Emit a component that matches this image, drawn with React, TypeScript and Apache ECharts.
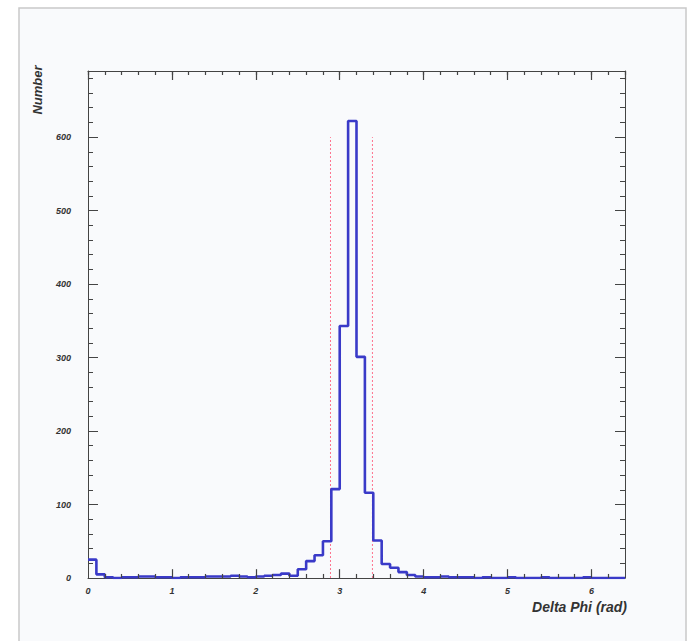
import React, { useEffect, useRef } from "react";
import * as echarts from "echarts";

// Histogram: 64 bins of width 0.1 rad from 0 to 6.4
const binWidth = 0.1;
const counts = [
  25, 5, 1, 0, 1, 1, 2, 2, 1, 1,
  0, 1, 1, 1, 2, 2, 2, 3, 2, 1,
  2, 3, 4, 6, 3, 12, 23, 31, 50, 121,
  343, 622, 301, 116, 51, 19, 14, 8, 4, 2,
  1, 1, 2, 1, 1, 1, 0, 1, 0, 0,
  1, 0, 0, 0, 1, 0, 0, 0, 0, 1,
  0, 0, 0, 0,
];
const xTickLabels = [0, 1, 2, 3, 4, 5, 6];
const yTickLabels = [0, 100, 200, 300, 400, 500, 600];
const xMinorStep = 0.2;
const cutPositions = [2.89, 3.39];
const cutHeight = 600;
const xMax = 6.4;
const yMax = 690;

const FONT = "'Liberation Sans', Arial, sans-serif";

export default function App() {
  const ref = useRef<HTMLDivElement>(null);
  useEffect(() => {
    if (!ref.current) return;
    const chart = echarts.init(ref.current, undefined, { renderer: "svg" });

    const stepData: number[][] = counts.map((c, i) => [i * binWidth, c]);
    stepData.push([counts.length * binWidth, counts[counts.length - 1]]);

    const axisCol = "#444";
    // bottom ticks as markLines (major ~9px, minor ~4px tall in data units)
    const nMinor = Math.round(xMax / xMinorStep);
    const tickLines: any[] = [];
    for (let i = 1; i < nMinor; i++) {
      const x = +(i * xMinorStep).toFixed(2);
      const major = Math.abs(x - Math.round(x)) < 1e-6;
      tickLines.push([
        { coord: [x, 0] },
        { coord: [x, major ? 12 : 5.5] },
      ]);
    }

    const labelStyle = {
      fontFamily: FONT,
      fontStyle: "italic" as const,
      fontWeight: "bold" as const,
      fontSize: 9,
      color: "#333",
    };

    const xBase = { type: "value" as const, min: 0, max: xMax, splitLine: { show: false } };
    const yBase = { type: "value" as const, min: 0, max: yMax, splitLine: { show: false } };
    const gridRect = { left: 88, right: 67, top: 71, bottom: 63, containLabel: false };
    const mainLine = { show: true, onZero: false, lineStyle: { color: axisCol, width: 1 } };
    const noLine = { show: false, onZero: false };

    const xAxis = [
      {
        ...xBase,
        gridIndex: 0,
        position: "bottom",
        interval: 1,
        axisLine: mainLine,
        axisTick: { show: false },
        axisLabel: {
          ...labelStyle,
          margin: 8,
          showMaxLabel: false,
          formatter: (v: number) => (xTickLabels.includes(v) ? String(v) : ""),
        },
      },
      {
        ...xBase,
        gridIndex: 0,
        position: "top",
        interval: 1,
        axisLine: mainLine,
        axisTick: { show: true, inside: true, length: 9, lineStyle: { color: axisCol, width: 1.2 } },
        axisLabel: { show: false },
      },
      {
        ...xBase,
        gridIndex: 1,
        position: "top",
        interval: xMinorStep,
        axisLine: noLine,
        axisTick: { show: true, inside: true, length: 4, lineStyle: { color: axisCol, width: 1.2 } },
        axisLabel: { show: false },
      },
    ];

    const yAxis = [
      {
        ...yBase,
        gridIndex: 0,
        position: "left",
        interval: 100,
        axisLine: mainLine,
        axisTick: { show: true, inside: true, length: 10, lineStyle: { color: axisCol } },
        axisLabel: {
          ...labelStyle,
          margin: 17,
          showMaxLabel: false,
          formatter: (v: number) => (yTickLabels.includes(v) ? String(v) : ""),
        },
      },
      {
        ...yBase,
        gridIndex: 0,
        position: "right",
        interval: 100,
        axisLine: mainLine,
        axisTick: { show: true, inside: true, length: 10, lineStyle: { color: axisCol } },
        axisLabel: { show: false },
      },
      {
        ...yBase,
        gridIndex: 1,
        position: "left",
        interval: 20,
        axisLine: noLine,
        axisTick: { show: true, inside: true, length: 5, lineStyle: { color: axisCol } },
        axisLabel: { show: false },
      },
      {
        ...yBase,
        gridIndex: 1,
        position: "right",
        interval: 20,
        axisLine: noLine,
        axisTick: { show: true, inside: true, length: 5, lineStyle: { color: axisCol } },
        axisLabel: { show: false },
      },
    ];

    const cutSeries = cutPositions.map((x) => ({
      type: "line" as const,
      xAxisIndex: 0,
      yAxisIndex: 0,
      data: [
        [x, 0],
        [x, cutHeight],
      ],
      symbol: "none",
      silent: true,
      lineStyle: { color: "#ff5a7a", width: 1, type: [2, 2] as any, opacity: 0.85 },
      z: 1,
    }));

    chart.setOption({
      animation: false,
      backgroundColor: "transparent",
      grid: [gridRect, gridRect],
      xAxis,
      yAxis,
      series: [
        ...cutSeries,
        {
          type: "line",
          xAxisIndex: 0,
          yAxisIndex: 0,
          data: stepData,
          step: "end",
          symbol: "none",
          lineStyle: { color: "#3a3ac8", width: 2.6 },
          z: 3,
          markLine: {
            silent: true,
            symbol: ["none", "none"],
            label: { show: false },
            lineStyle: { color: axisCol, width: 1.2, type: "solid" },
            data: tickLines,
          },
        },
      ],
      graphic: [
        {
          type: "rect",
          shape: { x: 19, y: 8, width: 667, height: 660 },
          style: { fill: "#f9fafc", stroke: "#c9c9c9", lineWidth: 1.5 },
          z: -10,
          silent: true,
        },
        {
          type: "text",
          x: 627,
          y: 607,
          style: {
            text: "Delta Phi (rad)",
            fontFamily: FONT,
            fontStyle: "italic",
            fontWeight: "bold",
            fontSize: 14,
            fill: "#333",
            align: "right",
            verticalAlign: "middle",
          },
        },
        {
          type: "text",
          x: 37,
          y: 90,
          rotation: Math.PI / 2,
          style: {
            text: "Number",
            fontFamily: FONT,
            fontStyle: "italic",
            fontWeight: "bold",
            fontSize: 13,
            fill: "#333",
            align: "center",
            verticalAlign: "middle",
          },
        },
      ],
    });
    return () => chart.dispose();
  }, []);

  return (
    <div
      ref={ref}
      style={{
        position: "fixed",
        left: 0,
        top: 0,
        width: 692,
        height: 641,
        background: "#ffffff",
      }}
    />
  );
}
